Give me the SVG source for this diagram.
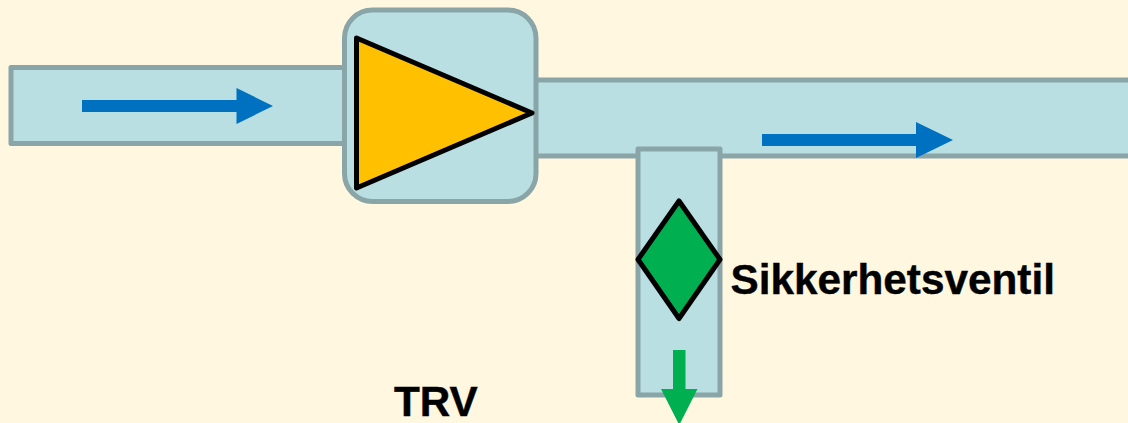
<svg xmlns="http://www.w3.org/2000/svg" width="1128" height="423" viewBox="0 0 1128 423">
<style>
.pipe{fill:#b9dfe2;stroke:#8aa5a8;stroke-width:5;stroke-linejoin:round}
.sym{stroke:#000;stroke-width:5;stroke-linejoin:round}
.lbl{font-family:"Liberation Sans",Arial,sans-serif;font-weight:700;font-size:42.300px;fill:#000;stroke:#000;stroke-width:.4px}
</style>
<rect width="1128" height="423" fill="#fff7e0"/>
<g id="inlet-pipe"><rect class="pipe" x="11" y="67.5" width="340" height="76"/></g>
<g id="outlet-pipe"><rect class="pipe" x="530" y="80" width="610" height="76"/></g>
<g id="pump"><rect class="pipe" x="344.5" y="10" width="191.500" height="191.500" rx="28"/><polygon class="sym" fill="#ffc000" points="356.500,38 532,113 356.500,188"/></g>
<g id="branch-pipe"><rect class="pipe" x="638" y="149" width="82" height="246"/></g>
<g id="safety-valve"><polygon class="sym" fill="#00b050" points="679,201 720,259.500 679,318.500 638,259.500"/><text class="lbl" x="730.500" y="293.500">Sikkerhetsventil</text></g>
<g id="trv-label"><text class="lbl" x="394" y="416">TRV</text></g>
<g id="connectors">
<polygon fill="#0070c0" points="82,100 236.500,100 236.500,88 273,106 236.500,124 236.500,112 82,112"/>
<polygon fill="#0070c0" points="762,134 916,134 916,122 953,140 916,158 916,146 762,146"/>
<polygon fill="#00b050" points="673,350 685.500,350 685.500,389 697.500,389 679.250,425 661,389 673,389"/>
</g>
</svg>
